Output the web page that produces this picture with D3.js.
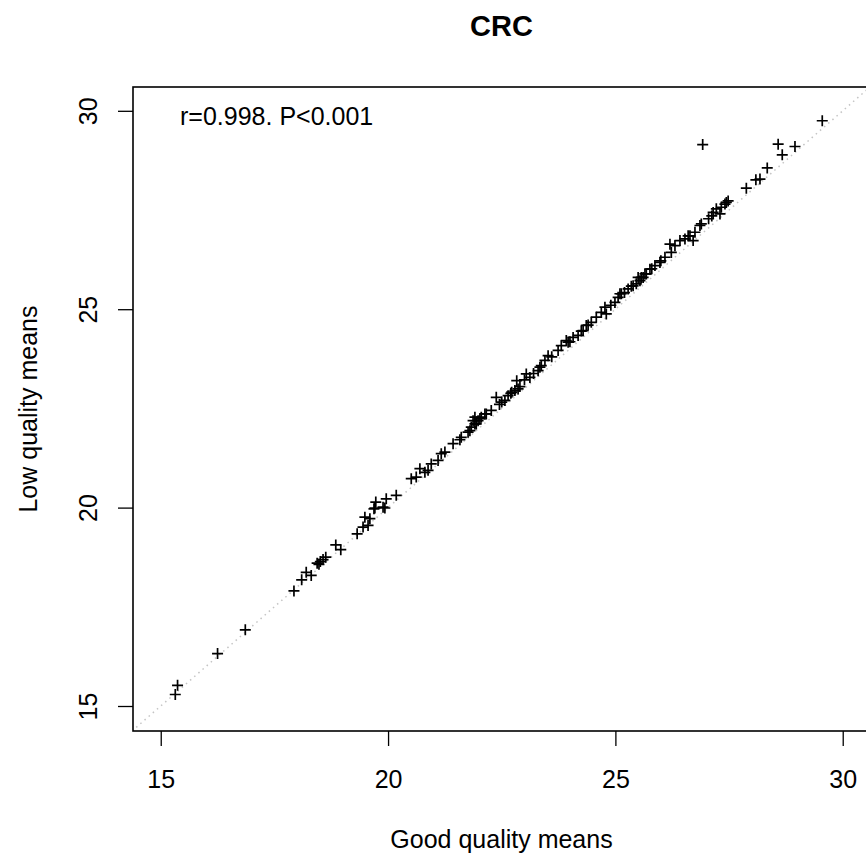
<!DOCTYPE html>
<html>
<head>
<meta charset="utf-8">
<script src="https://cdn.jsdelivr.net/npm/d3@7"></script>
<style>
  body { margin: 0; background: #fff; }
  svg text { font-family: "Liberation Sans", Arial, sans-serif; fill: #000; }
</style>
</head>
<body>
<div id="chart"></div>
<script>
// good quality means (x) and low quality means (y)
const goodMeans = [
  15.32, 15.37, 16.25, 16.86, 17.93, 18.10, 18.20, 18.31, 18.44, 18.51,
  18.57, 18.63, 18.48, 18.85, 18.96, 19.32, 19.45, 19.56, 19.60, 19.49,
  19.71, 19.93, 19.73, 19.69, 19.89, 19.96, 20.18, 20.51, 20.62, 20.70,
  20.81, 20.88, 20.95, 21.10, 21.17, 21.25, 21.43, 21.58, 21.76, 21.83,
  21.91, 21.98, 22.05, 21.91, 22.13, 21.61, 21.80, 21.87, 21.94, 22.02,
  22.16, 22.27, 22.38, 22.57, 22.64, 22.72, 22.79, 22.86, 22.83, 23.04,
  23.12, 23.30, 23.37, 23.45, 23.52, 23.74, 23.81, 23.96, 23.34, 23.92,
  24.07, 24.18, 24.29, 24.36, 24.47, 24.58, 24.69, 24.77, 24.80, 24.99,
  25.06, 25.13, 25.28, 25.39, 25.46, 25.54, 25.61, 25.68, 25.50, 25.10,
  25.57, 25.65, 25.76, 25.87, 25.98, 26.09, 26.23, 26.20, 26.31, 26.42,
  26.53, 26.64, 26.71, 26.75, 26.86, 26.89, 27.15, 27.22, 27.33, 27.41,
  27.48, 27.30, 26.92, 27.44, 27.88, 28.09, 28.18, 28.34, 28.58, 28.67,
  28.95, 29.55, 22.45, 22.50, 22.90, 23.20, 23.60, 24.00, 24.40, 24.90,
  25.20, 25.80, 26.00, 26.60, 27.05, 27.12, 22.70, 23.00, 24.25, 25.35
];
const lowMeans = [
  15.29, 15.52, 16.32, 16.92, 17.90, 18.18, 18.37, 18.29, 18.60, 18.64,
  18.69, 18.75, 18.57, 19.06, 18.94, 19.34, 19.51, 19.55, 19.72, 19.76,
  19.99, 19.99, 20.14, 19.97, 20.01, 20.22, 20.31, 20.73, 20.77, 20.98,
  20.89, 20.94, 21.10, 21.19, 21.36, 21.40, 21.61, 21.71, 21.90, 22.03,
  22.11, 22.19, 22.28, 22.28, 22.36, 21.77, 21.94, 22.19, 22.11, 22.24,
  22.36, 22.45, 22.78, 22.70, 22.82, 22.91, 22.95, 22.99, 23.20, 23.37,
  23.28, 23.45, 23.58, 23.71, 23.83, 23.96, 24.08, 24.17, 23.54, 24.21,
  24.29, 24.34, 24.46, 24.59, 24.67, 24.80, 24.92, 25.05, 24.88, 25.17,
  25.30, 25.39, 25.51, 25.59, 25.64, 25.72, 25.80, 25.89, 25.80, 25.39,
  25.80, 25.89, 26.01, 26.10, 26.18, 26.31, 26.43, 26.64, 26.60, 26.73,
  26.77, 26.85, 26.73, 26.94, 27.11, 27.15, 27.44, 27.53, 27.57, 27.65,
  27.73, 27.40, 29.15, 27.69, 28.05, 28.26, 28.28, 28.56, 29.16, 28.89,
  29.10, 29.75, 22.60, 22.66, 23.05, 23.38, 23.80, 24.18, 24.60, 25.10,
  25.42, 26.02, 26.22, 26.85, 27.28, 27.35, 22.88, 23.22, 24.45, 25.58
];
const xTicks = [15, 20, 25, 30];
const yTicks = [15, 20, 25, 30];
const titleText = 'CRC';
const xLabel = 'Good quality means';
const yLabel = 'Low quality means';
const statText = 'r=0.998. P<0.001';

const points = goodMeans.map((g, i) => ({ good: g, low: lowMeans[i] }));

const width = 866;
const height = 859;
const plot = { left: 133, right: 870, top: 87, bottom: 731 };

const xScale = d3.scaleLinear().domain([14.39, 30.6]).range([plot.left, plot.right]);
const yScale = d3.scaleLinear().domain([14.37, 30.6]).range([plot.bottom, plot.top]);

const svg = d3.select('#chart')
  .append('svg')
  .attr('width', width)
  .attr('height', height);

svg.append('defs').append('clipPath')
  .attr('id', 'plot-clip')
  .append('rect')
  .attr('x', plot.left)
  .attr('y', plot.top)
  .attr('width', plot.right - plot.left)
  .attr('height', plot.bottom - plot.top);

// y = x reference line
const lo = Math.min(xScale.domain()[0], yScale.domain()[0]);
const hi = Math.max(xScale.domain()[1], yScale.domain()[1]);
svg.append('line')
  .attr('clip-path', 'url(#plot-clip)')
  .attr('x1', xScale(lo)).attr('y1', yScale(lo))
  .attr('x2', xScale(hi)).attr('y2', yScale(hi))
  .attr('stroke', '#c4c4c4')
  .attr('stroke-width', 1.5)
  .attr('stroke-dasharray', '1.5,4');

// points drawn as "+"
const arm = 5.5;
svg.append('g')
  .attr('class', 'dots')
  .selectAll('path')
  .data(points)
  .join('path')
  .attr('d', (d) => {
    const cx = xScale(d.good), cy = yScale(d.low);
    return `M${cx - arm},${cy}H${cx + arm}M${cx},${cy - arm}V${cy + arm}`;
  })
  .attr('stroke', '#000')
  .attr('stroke-width', 1.7)
  .attr('fill', 'none');

// box
svg.append('rect')
  .attr('x', plot.left)
  .attr('y', plot.top)
  .attr('width', plot.right - plot.left)
  .attr('height', plot.bottom - plot.top)
  .attr('fill', 'none')
  .attr('stroke', '#000')
  .attr('stroke-width', 1.6);

const fs = 25;

// x axis
const xAxis = svg.append('g')
  .attr('transform', `translate(0, ${plot.bottom})`)
  .call(d3.axisBottom(xScale).tickValues(xTicks).tickSize(15).tickSizeOuter(0).tickFormat(''));
xAxis.select('.domain').attr('stroke', 'none');
xAxis.selectAll('.tick line').attr('stroke-width', 1.3);
xAxis.selectAll('.tick')
  .append('text')
  .attr('y', 57)
  .attr('text-anchor', 'middle')
  .style('font-size', fs + 'px')
  .text((d) => d);

// y axis
const yAxis = svg.append('g')
  .attr('transform', `translate(${plot.left}, 0)`)
  .call(d3.axisLeft(yScale).tickValues(yTicks).tickSize(15).tickSizeOuter(0).tickFormat(''));
yAxis.select('.domain').attr('stroke', 'none');
yAxis.selectAll('.tick line').attr('stroke-width', 1.3);
yAxis.selectAll('.tick')
  .append('text')
  .attr('transform', 'translate(-36, 0) rotate(-90)')
  .attr('text-anchor', 'middle')
  .style('font-size', fs + 'px')
  .text((d) => d);

svg.append('text')
  .attr('x', (plot.left + plot.right) / 2)
  .attr('y', 36)
  .attr('text-anchor', 'middle')
  .style('font-size', '29px')
  .style('font-weight', 'bold')
  .text(titleText);

svg.append('text')
  .attr('x', (plot.left + plot.right) / 2)
  .attr('y', 848)
  .attr('text-anchor', 'middle')
  .style('font-size', fs + 'px')
  .text(xLabel);

svg.append('text')
  .attr('transform', `translate(37, ${(plot.top + plot.bottom) / 2}) rotate(-90)`)
  .attr('text-anchor', 'middle')
  .style('font-size', fs + 'px')
  .text(yLabel);

svg.append('text')
  .attr('x', 180)
  .attr('y', 125)
  .style('font-size', fs + 'px')
  .text(statText);
</script>
</body>
</html>
